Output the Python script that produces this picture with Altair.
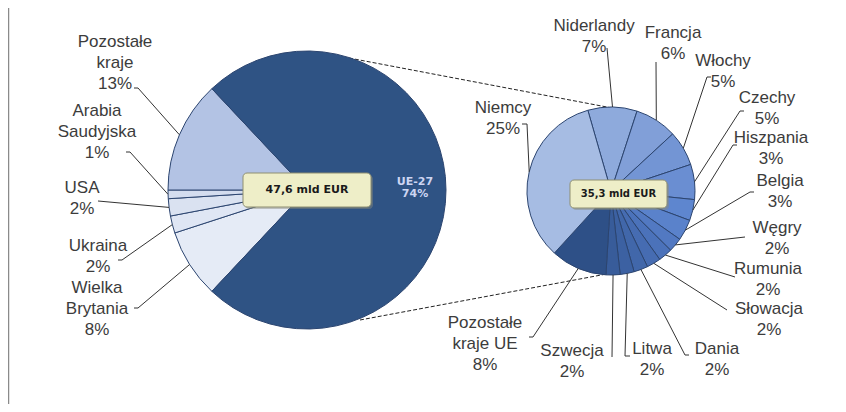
import math
import altair as alt
import pandas as pd

# ---------------- data ----------------
world_names = ["Wielka Brytania", "Ukraina", "USA", "Arabia Saudyjska", "Pozostałe kraje", "UE-27"]
world_values = [8, 2, 2, 1, 13, 74]
world_label_lines = [["Wielka", "Brytania"], ["Ukraina"], ["USA"], ["Arabia", "Saudyjska"], ["Pozostałe", "kraje"], ["UE-27"]]
world_total = "47,6 mld EUR"

eu_names = ["Niderlandy", "Francja", "Włochy", "Czechy", "Hiszpania", "Belgia", "Węgry",
            "Rumunia", "Słowacja", "Dania", "Litwa", "Szwecja", "Pozostałe kraje UE", "Niemcy"]
eu_values = [7, 6, 5, 5, 3, 3, 2, 2, 2, 2, 2, 2, 8, 25]
eu_label_lines = [["Niderlandy"], ["Francja"], ["Włochy"], ["Czechy"], ["Hiszpania"], ["Belgia"], ["Węgry"],
                  ["Rumunia"], ["Słowacja"], ["Dania"], ["Litwa"], ["Szwecja"], ["Pozostałe", "kraje UE"], ["Niemcy"]]
eu_total = "35,3 mld EUR"

# ---------------- styles / layout ----------------
world_colors = ["#e5ebf6", "#dfe6f4", "#dae2f1", "#d4ddef", "#b3c3e4", "#2f5384"]
eu_colors = ["#8eaadc", "#819fd8", "#7395d4", "#6a8ed2", "#5e86cf", "#5a82cb", "#5279c2",
             "#4b72ba", "#466cb2", "#4167aa", "#3c61a2", "#385c9a", "#2e5087", "#a6bce3"]

W_CX, W_CY, W_R, W_START = 307, 190, 139, 223.2
E_CX, E_CY, E_R, E_START = 611, 191, 84, -16.0

# label positions (centre x, first-line y, screen px) and leader anchors (x, y, tick)
world_label_pos = [(97, 288), (98, 246), (82, 188), (97, 111), (115, 42), None]
world_anchor = [(138, 308, -4), (122, 260, -4), (98, 201, 0), (130, 152, -4), (138, 88, -4), None]
eu_label_pos = [(594, 26), (673, 33), (723, 61), (767, 98), (771, 138), (780, 181), (777, 228),
                (768, 269), (769, 309), (717, 349), (652, 349), (572, 351), (485, 323), (503, 108)]
eu_anchor = [(607, 48, 0), (656, 62, 0), (707, 77, 4), (740, 111, 4), (733, 145, 4), (750, 192, 4),
             (745, 237, 0), (735, 277, 0), (727, 310, 0), (685, 355, 4), (625, 356, 5), (612, 357, 0),
             (533, 337, -4), (527, 124, -5)]

FONT = "Liberation Sans"

xs = alt.Scale(domain=[8, 838], nice=False, zero=False)
ys = alt.Scale(domain=[8, 404], nice=False, zero=False, reverse=True)


def pie_frame(names, values, colors, cx, cy):
    return pd.DataFrame({"name": names, "value": values, "col": colors,
                         "idx": list(range(len(names))), "cx": cx, "cy": cy})


def mid_points(values, start, cx, cy, r):
    tot = sum(values)
    cum = 0
    pts = []
    for v in values:
        a = math.radians(start + (cum + v / 2) / tot * 360)
        pts.append((cx + r * math.sin(a), cy - r * math.cos(a)))
        cum += v
    return pts


def pie_layer(df, start, r):
    rng = [math.radians(start), math.radians(start) + 2 * math.pi]
    return alt.Chart(df).mark_arc(outerRadius=r, stroke="#2c4570", strokeWidth=1).encode(
        x=alt.X("cx:Q", scale=xs, axis=None),
        y=alt.Y("cy:Q", scale=ys, axis=None),
        theta=alt.Theta("value:Q", stack=True, scale=alt.Scale(range=rng)),
        order=alt.Order("idx:Q", sort="ascending"),
        color=alt.Color("col:N", scale=None),
    )


world_df = pie_frame(world_names, world_values, world_colors, W_CX, W_CY)
eu_df = pie_frame(eu_names, eu_values, eu_colors, E_CX, E_CY)

# labels and leader lines
lab_rows, line_rows = [], []
for names, values, lines, pos, anc, start, cx, cy, r in [
    (world_names, world_values, world_label_lines, world_label_pos, world_anchor, W_START, W_CX, W_CY, W_R),
    (eu_names, eu_values, eu_label_lines, eu_label_pos, eu_anchor, E_START, E_CX, E_CY, E_R),
]:
    pts = mid_points(values, start, cx, cy, r)
    for i, n in enumerate(names):
        if pos[i] is None:
            continue
        txt = "\n".join(lines[i] + [f"{values[i]}%"])
        lab_rows.append({"x": pos[i][0], "y": pos[i][1], "t": txt})
        ax, ay, tk = anc[i]
        seq = [(ax + tk, ay), (ax, ay), pts[i]]
        for k, (px, py) in enumerate(seq):
            line_rows.append({"g": n, "k": k, "x": px, "y": py})

lab_df = pd.DataFrame(lab_rows)
line_df = pd.DataFrame(line_rows)

labels = alt.Chart(lab_df).mark_text(font=FONT, fontSize=17, lineHeight=21, lineBreak="\n",
                                     align="center", baseline="middle", color="#3c3c3c").encode(
    x=alt.X("x:Q", scale=xs, axis=None), y=alt.Y("y:Q", scale=ys, axis=None), text="t:N")

leaders = alt.Chart(line_df).mark_line(color="#333333", strokeWidth=1).encode(
    x=alt.X("x:Q", scale=xs, axis=None), y=alt.Y("y:Q", scale=ys, axis=None),
    detail="g:N", order="k:Q")

# dashed connectors between the pies
conn_df = pd.DataFrame({"x": [349, 360], "y": [58, 320], "x2": [612, 612], "y2": [108, 273]})
connectors = alt.Chart(conn_df).mark_rule(color="#222222", strokeWidth=1, strokeDash=[4, 2]).encode(
    x=alt.X("x:Q", scale=xs, axis=None), y=alt.Y("y:Q", scale=ys, axis=None), x2="x2:Q", y2="y2:Q")

# total boxes
box_df = pd.DataFrame({"x": [243, 570], "x2": [371, 667], "y": [173, 180], "y2": [207, 208],
                       "t": [world_total, eu_total], "fs": [11, 10]})
shadow = alt.Chart(box_df).transform_calculate(
    sx="datum.x + 2", sx2="datum.x2 + 2", sy="datum.y + 2", sy2="datum.y2 + 2"
).mark_rect(cornerRadius=4, fill="#8a8a7a", opacity=0.45).encode(
    x=alt.X("sx:Q", scale=xs, axis=None), x2="sx2:Q",
    y=alt.Y("sy:Q", scale=ys, axis=None), y2="sy2:Q")
boxes = alt.Chart(box_df).mark_rect(cornerRadius=4, fill="#eeeec8", stroke="#8f8f70", strokeWidth=1).encode(
    x=alt.X("x:Q", scale=xs, axis=None), x2="x2:Q",
    y=alt.Y("y:Q", scale=ys, axis=None), y2="y2:Q")
box_text = alt.Chart(box_df).transform_calculate(
    mx="(datum.x + datum.x2) / 2", my="(datum.y + datum.y2) / 2"
).mark_text(font="DejaVu Sans", fontWeight="bold", color="#1a1a1a", baseline="middle", align="center").encode(
    x=alt.X("mx:Q", scale=xs, axis=None), y=alt.Y("my:Q", scale=ys, axis=None), text="t:N",
    size=alt.Size("fs:Q", scale=None))

# UE-27 inner label
ue_df = pd.DataFrame({"x": [415], "y": [182], "t": [f"{world_label_lines[5][0]}\n{world_values[5]}%"]})
ue_text = alt.Chart(ue_df).mark_text(font="DejaVu Sans", fontWeight="bold", fontSize=11, lineHeight=12,
                                     lineBreak="\n", color="#cdd5f2", align="center", baseline="middle").encode(
    x=alt.X("x:Q", scale=xs, axis=None), y=alt.Y("y:Q", scale=ys, axis=None), text="t:N")

# left border line
border_df = pd.DataFrame({"x": [8.5], "y": [8], "y2": [406]})
border = alt.Chart(border_df).mark_rule(color="#8a8a8a", strokeWidth=1.5).encode(
    x=alt.X("x:Q", scale=xs, axis=None), y=alt.Y("y:Q", scale=ys, axis=None), y2="y2:Q")

chart = alt.layer(
    border, connectors,
    pie_layer(world_df, W_START, W_R), pie_layer(eu_df, E_START, E_R),
    leaders, shadow, boxes, box_text, ue_text, labels,
).resolve_scale(theta="independent").properties(
    width=830, height=396, padding=0, autosize=alt.AutoSizeParams(type="none"), background="white"
).configure_view(stroke=None)

chart.save("out.html", embed_options={"renderer": "svg", "actions": False})
